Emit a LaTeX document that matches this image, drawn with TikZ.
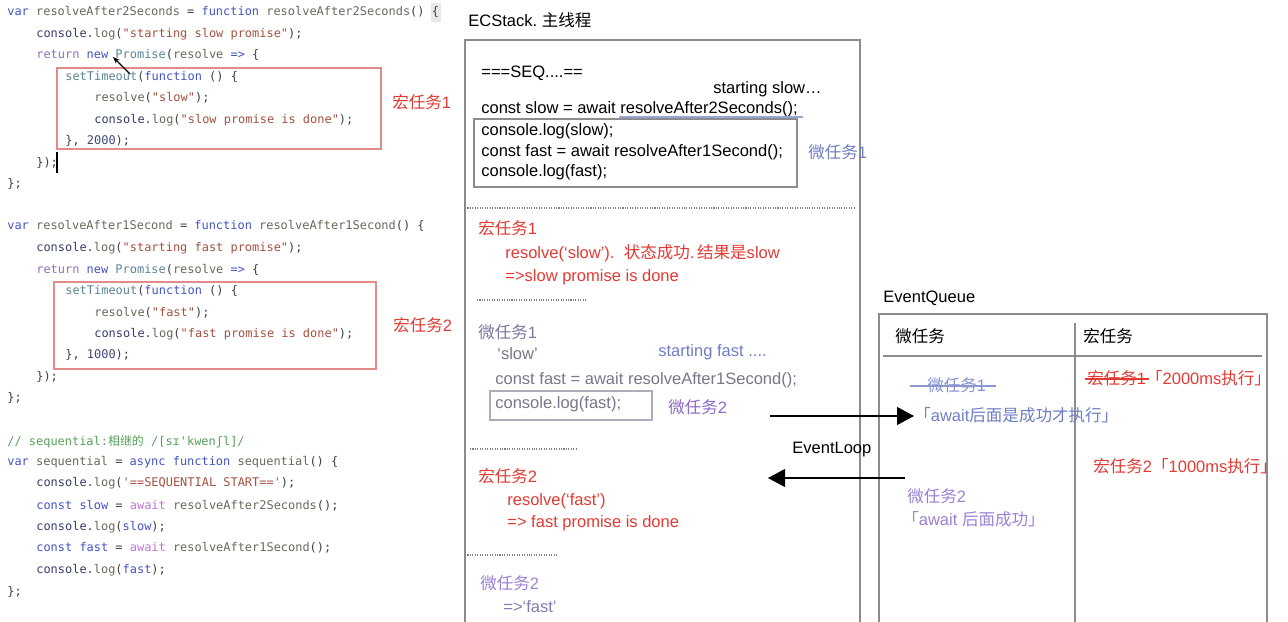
\documentclass[tikz,border=0pt]{standalone}
\usepackage{fontspec}
\setmainfont{Liberation Sans}
\setmonofont{DejaVu Sans Mono}
\newfontfamily\cjk{Noto Sans CJK SC}
\usetikzlibrary{arrows.meta}

\definecolor{kwblue}{HTML}{4253C4}
\definecolor{idgray}{HTML}{6B675C}
\definecolor{connavy}{HTML}{363D6B}
\definecolor{strred}{HTML}{A3503F}
\definecolor{retpurple}{HTML}{8D70B8}
\definecolor{clsteal}{HTML}{5C8494}
\definecolor{awpink}{HTML}{BE74D6}
\definecolor{numblue}{HTML}{3F4A78}
\definecolor{cmtgreen}{HTML}{559F58}
\definecolor{codeplain}{HTML}{3E3F48}
\definecolor{redt}{HTML}{E23A33}
\definecolor{boxred}{HTML}{E58A8A}
\definecolor{linegray}{HTML}{8C8C8C}
\definecolor{mtblue}{HTML}{6E7DC4}
\definecolor{mtgray}{HTML}{78789E}
\definecolor{txtgray}{HTML}{76778A}
\definecolor{mtpurple}{HTML}{8C69CA}
\definecolor{mtlilac}{HTML}{9B80D4}

\newcommand{\zh}[1]{{\cjk #1}}
\newcommand{\ckw}[1]{\textcolor{kwblue}{#1}}
\newcommand{\cid}[1]{\textcolor{idgray}{#1}}
\newcommand{\ccon}[1]{\textcolor{connavy}{#1}}
\newcommand{\cstr}[1]{\textcolor{strred}{#1}}
\newcommand{\cret}[1]{\textcolor{retpurple}{#1}}
\newcommand{\ccls}[1]{\textcolor{clsteal}{#1}}
\newcommand{\caw}[1]{\textcolor{awpink}{#1}}
\newcommand{\cnum}[1]{\textcolor{numblue}{#1}}
\newcommand{\ccmt}[1]{\textcolor{cmtgreen}{#1}}

\begin{document}
\begin{tikzpicture}[
        x=0.2mm, y=-0.2mm,
        every node/.style={inner sep=0pt, anchor=west},
        code/.style={font=\ttfamily\fontsize{6.8}{8}\selectfont, text=codeplain, text height=6pt, text depth=1.6pt},
        txt/.style={font=\fontsize{9.4}{11}\selectfont, text height=8.4pt, text depth=2pt},
        frame/.style={draw=linegray, line width=0.7pt}
    ]

    \tikzset{
    arrow/.style={-{Triangle[length=3.4mm, width=3.6mm]}, line width=0.6pt},
    sep/.style={draw=gray, line width=0.7pt, dash pattern=on 0.6pt off 0.8pt},
    strike/.style={line width=0.6pt}
}

    \useasboundingbox (0,0) rectangle (1288,622);
    \fill[gray!18] (431,3) rectangle (441,22);

    \node[code] (a1) at (7,12) {\ckw{var} \cid{resolveAfter2Seconds} = \ckw{function} \cid{resolveAfter2Seconds}() \{};
    \node[code] (a2) at (36,33.5) {\ccon{console}.\cid{log}(\cstr{"starting slow promise"});};
    \node[code] (a3) at (36,55) {\cret{return} \ckw{new} \ccls{Promise}(\cid{resolve} \ckw{=>} \{};
    \node[code] (a4) at (65,76.5) {\ccls{setTimeout}(\ckw{function} () \{};
    \node[code] (a5) at (94,98) {\cid{resolve}(\cstr{"slow"});};
    \node[code] (a6) at (94,119.5) {\ccon{console}.\cid{log}(\cstr{"slow promise is done"});};
    \node[code] (a7) at (65,141) {\}, \cnum{2000});};
    \node[code] (a8) at (36,162.5) {\});};
    \node[code] (a9) at (7,184) {\};};

    \node[code] (b1) at (7,226) {\ckw{var} \cid{resolveAfter1Second} = \ckw{function} \cid{resolveAfter1Second}() \{};
    \node[code] (b2) at (36,248) {\ccon{console}.\cid{log}(\cstr{"starting fast promise"});};
    \node[code] (b3) at (36,270) {\cret{return} \ckw{new} \ccls{Promise}(\cid{resolve} \ckw{=>} \{};
    \node[code] (b4) at (65,291) {\ccls{setTimeout}(\ckw{function} () \{};
    \node[code] (b5) at (94,313) {\cid{resolve}(\cstr{"fast"});};
    \node[code] (b6) at (94,334) {\ccon{console}.\cid{log}(\cstr{"fast promise is done"});};
    \node[code] (b7) at (65,355) {\}, \cnum{1000});};
    \node[code] (b8) at (36,377) {\});};
    \node[code] (b9) at (7,398) {\};};

    \node[code] (c1) at (7,442) {\ccmt{// sequential:\zh{相继的} /[sɪ'kwenʃl]/}};
    \node[code] (c2) at (7,462) {\ckw{var} \cid{sequential} = \ckw{async} \ckw{function} \cid{sequential}() \{};
    \node[code] (c3) at (36,483) {\ccon{console}.\cid{log}(\cstr{'==SEQUENTIAL START=='});};
    \node[code] (c4) at (36,506) {\ckw{const} \ckw{slow} = \caw{await} \cid{resolveAfter2Seconds}();};
    \node[code] (c5) at (36,527) {\ccon{console}.\cid{log}(\ckw{slow});};
    \node[code] (c6) at (36,548) {\ckw{const} \ckw{fast} = \caw{await} \cid{resolveAfter1Second}();};
    \node[code] (c7) at (36,570) {\ccon{console}.\cid{log}(\ckw{fast});};
    \node[code] (c8) at (7,592) {\};};

    \draw[boxred, line width=0.6pt] (57,68) rectangle (381,149);
    \draw[boxred, line width=0.6pt] (54,282) rectangle (376,369);
    \node[txt, text=redt] (lbl1) at (392,103) {\zh{宏任务}1};
    \node[txt, text=redt] (lbl2) at (393,326) {\zh{宏任务}2};
    \draw[-{Stealth[length=1.4mm]}, line width=0.7pt] (130,74) -- (113,57);
    \draw[line width=0.6pt] (57,152) -- (57,173);

    \node[txt] (ectitle) at (468,21) {ECStack.\ \zh{主线程}};
    \draw[frame] (465,625) |- (860,40) -- (860,625);
    \node[txt] (seq) at (481,72) {===SEQ....==};
    \node[txt] (sslow) at (713,88) {starting slow…};
    \node[txt] (cslow) at (481,108) {const slow = await resolveAfter2Seconds();};
    \draw[mtblue!70, line width=0.6pt] (619,117) -- (803,117);
    \draw[frame, line width=0.6pt] (474,119) rectangle (797,187);
    \node[txt] (m1a) at (481,130) {console.log(slow);};
    \node[txt] (m1b) at (481,151) {const fast = await resolveAfter1Second();};
    \node[txt] (m1c) at (481,171) {console.log(fast);};
    \node[txt, text=mtblue] (m1lbl) at (808,153) {\zh{微任务}1};

    \draw[sep] (465,208) -- (854,208);
    \node[txt, text=redt] (M1) at (478,229) {\zh{宏任务}1};
    \node[txt, text=redt] (M1a) at (505,253) {resolve(‘slow’).\ \ \zh{状态成功}.\,\zh{结果是}slow};
    \node[txt, text=redt] (M1b) at (505,276) {=>slow promise is done};

    \draw[sep] (477,300) -- (587,300);
    \node[txt, text=mtgray] (m1) at (478,333) {\zh{微任务}1};
    \node[txt, text=txtgray] (m1s) at (497,354) {‘slow’};
    \node[txt, text=mtblue] (sfast) at (658,351) {starting fast ....};
    \node[txt, text=txtgray] (m1f) at (495,379) {const fast = await resolveAfter1Second();};
    \draw[draw=txtgray!60, line width=0.6pt] (490,391) rectangle (652,420);
    \node[txt, text=txtgray] (m1g) at (495,403) {console.log(fast);};
    \node[txt, text=mtpurple] (m2lbl) at (668,408) {\zh{微任务}2};

    \draw[sep] (470,449) -- (578,449);
    \node[txt] (evloop) at (792,448) {EventLoop};
    \node[txt, text=redt] (M2) at (478,477) {\zh{宏任务}2};
    \node[txt, text=redt] (M2a) at (507,500) {resolve(‘fast’)};
    \node[txt, text=redt] (M2b) at (507,522) {=> fast promise is done};

    \draw[sep] (465,555) -- (557,555);
    \node[txt, text=mtlilac] (m2) at (480,584) {\zh{微任务}2};
    \node[txt, text=txtgray!60!mtlilac] (m2a) at (503,607) {=>‘fast’};

    \node[txt] (evq) at (883,297) {EventQueue};
    \draw[frame] (879,625) |- (1267,314) -- (1267,625);
    \draw[frame] (1075,323) -- (1075,625);
    \draw[draw=linegray, line width=1.1pt] (883,356) -- (1262,356);
    \node[txt] (qmic) at (895,337) {\zh{微任务}};
    \node[txt] (qmac) at (1083,337) {\zh{宏任务}};
    \node[txt, text=mtblue!85] (qm1) at (927,386) {\zh{微任务}1};
    \node[txt, text=mtblue] (qaw1) at (914,416) {\zh{「}await\zh{后面是成功才执行」}};
    \node[txt, text=redt] (qM1) at (1087,379) {\zh{宏任务}1\zh{「}2000ms\zh{执行」}};
    \node[txt, text=redt] (qM2) at (1093,467) {\zh{宏任务}2\zh{「}1000ms\zh{执行」}};
    \node[txt, text=mtlilac] (qm2) at (907,497) {\zh{微任务}2};
    \node[txt, text=mtlilac] (qaw2) at (902,520) {\zh{「}await \zh{后面成功」}};

    \draw[strike, mtblue!80] ([xshift=-3.4mm]qm1.west) -- ([xshift=2mm]qm1.east);
    \draw[strike, redt] ([xshift=-0.4mm]qM1.west) -- ++(64,0);

    \coordinate (loopa) at (770,416);
    \coordinate (loopb) at (905,478);
    \coordinate (loopc) at (768,478);
    \draw[arrow] (loopa) -- (qaw1.west);
    \draw[arrow] (loopb) -- (loopc);
    \end{tikzpicture}
\end{document}
